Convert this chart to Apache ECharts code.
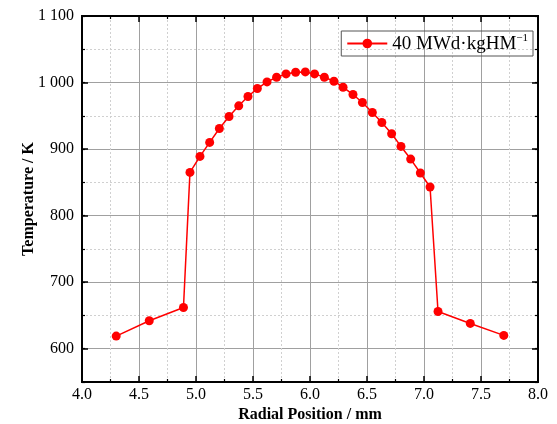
<!DOCTYPE html>
<html><head><meta charset="utf-8">
<script src="https://cdn.jsdelivr.net/npm/echarts@6/dist/echarts.min.js"></script>
<style>html,body{margin:0;padding:0;background:#fff}#c{width:557px;height:424px}</style>
</head><body><div id="c"></div>
<script>
const radialPosition = [4.30, 4.59, 4.89, 4.947, 5.035, 5.12, 5.205, 5.29, 5.375, 5.456, 5.538, 5.623, 5.707, 5.79, 5.874, 5.959, 6.04, 6.126, 6.21, 6.29, 6.377, 6.46, 6.547, 6.63, 6.716, 6.798, 6.883, 6.968, 7.053, 7.123, 7.406, 7.70];
const temperature = [619, 642, 662, 865, 889, 910, 931, 949, 965, 979, 991, 1001, 1008, 1013, 1015.5, 1016, 1013, 1008, 1002, 993, 982, 970, 955, 940, 923, 904, 885, 864, 843, 656, 638, 620];
const yMajorTicks = [600, 700, 800, 900, 1000, 1100];
const seriesName = '40 MWd·kgHM';
const xTitle = 'Radial Position / mm';
const yTitle = 'Temperature / K';

const FONT = '"Liberation Serif", "Times New Roman", serif';
const chart = echarts.init(document.getElementById('c'));
const fmtY = v => v >= 1000 ? Math.floor(v/1000) + ' ' + String(v % 1000).padStart(3, '0') : String(v);
const blackLine = {show: true, onZero: false, lineStyle: {color: '#000', width: 2}};
const tickMajor = {show: true, inside: true, length: 6, lineStyle: {color: '#000', width: 1.5}};
const tickMinor = {show: true, inside: true, length: 3, lineStyle: {color: '#000', width: 1.2}};
const minorX = {show: true, splitNumber: 2, length: 3, lineStyle: {color: '#000', width: 1.2}};
const yBase = {type: 'value', min: 550, max: 1100};
chart.setOption({
  animation: false,
  backgroundColor: '#fff',
  grid: {left: 82, right: 19, top: 16, bottom: 42, show: false, outerBoundsMode: 'none', containLabel: false},
  legend: {
    top: 31, right: 24, padding: [2, 5, 2, 5],
    borderColor: '#555', borderWidth: 1, borderRadius: 0,
    itemWidth: 40, itemHeight: 12, itemGap: 0,
    textStyle: {fontFamily: FONT, fontSize: 19, color: '#000', padding: [2, 0, 0, 0],
      rich: {sup: {fontFamily: FONT, fontSize: 11, verticalAlign: 'top', padding: [0, 0, 12, 0], color: '#000'}}},
    formatter: n => n + '{sup|−1}',
    data: [seriesName]
  },
  xAxis: [{
    type: 'value', min: 4, max: 8, interval: 0.5, position: 'bottom',
    name: xTitle, nameLocation: 'middle', nameGap: 25, nameMoveOverlap: false,
    nameTextStyle: {fontFamily: FONT, fontSize: 16, fontWeight: 'bold', color: '#000'},
    axisLine: blackLine, axisTick: tickMajor, minorTick: minorX,
    axisLabel: {fontFamily: FONT, fontSize: 16, color: '#000', margin: 5, formatter: v => v.toFixed(1)},
    splitLine: {show: true, lineStyle: {color: '#a0a0a0', width: 1}},
    minorSplitLine: {show: true, lineStyle: {color: '#d0d0d0', width: 1, type: [2, 2]}}
  }, {
    type: 'value', min: 4, max: 8, interval: 0.5, position: 'top',
    axisLine: blackLine, axisTick: tickMajor, minorTick: minorX,
    axisLabel: {show: false}, splitLine: {show: false}
  }],
  yAxis: [
    Object.assign({}, yBase, {
      interval: 50, position: 'left',
      axisLine: blackLine, axisTick: tickMinor,
      axisLabel: {show: false},
      splitLine: {show: true, lineStyle: {color: '#d0d0d0', width: 1, type: [2, 2]}}
    }),
    Object.assign({}, yBase, {
      position: 'left',
      name: yTitle, nameLocation: 'middle', nameGap: 45, nameRotate: 90, nameMoveOverlap: false,
      nameTextStyle: {fontFamily: FONT, fontSize: 16, fontWeight: 'bold', color: '#000'},
      axisLine: blackLine,
      axisTick: Object.assign({customValues: yMajorTicks}, tickMajor),
      axisLabel: {customValues: yMajorTicks, fontFamily: FONT, fontSize: 16, color: '#000', margin: 8, formatter: fmtY},
      splitLine: {show: true, lineStyle: {color: '#a0a0a0', width: 1}}
    }),
    Object.assign({}, yBase, {
      interval: 50, position: 'right',
      axisLine: blackLine, axisTick: tickMinor,
      axisLabel: {show: false}, splitLine: {show: false}
    }),
    Object.assign({}, yBase, {
      position: 'right',
      axisLine: blackLine,
      axisTick: Object.assign({customValues: yMajorTicks}, tickMajor),
      axisLabel: {show: false}, splitLine: {show: false}
    })
  ],
  series: [{
    name: seriesName, type: 'line', xAxisIndex: 0, yAxisIndex: 1,
    data: radialPosition.map((x, i) => [x, temperature[i]]),
    symbol: 'circle', symbolSize: 9,
    itemStyle: {color: '#ff0000'},
    lineStyle: {color: '#ff0000', width: 1.5},
    z: 5
  }]
});
</script>
</body></html>
